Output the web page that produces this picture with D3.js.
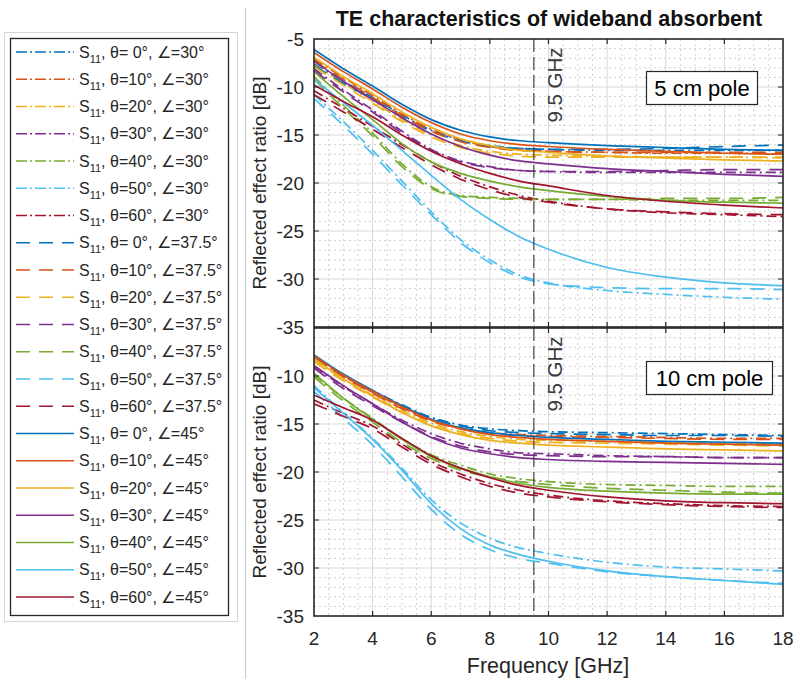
<!DOCTYPE html>
<html>
<head>
<meta charset="utf-8">
<script src="https://cdn.jsdelivr.net/npm/d3@7"></script>
<style>
  body { margin: 0; background: #fff; }
  svg { display: block; font-family: "Liberation Sans", Arial, Helvetica, sans-serif; }
</style>
</head>
<body>
<div id="chart"></div>
<script>
// frequency samples [GHz]
var freq = [2, 3, 4, 5, 6, 7, 8, 9, 10, 12, 14, 16, 18];
var thetas = [0, 10, 20, 30, 40, 50, 60];
var angles = ["30", "37.5", "45"];
var colors = ["#0072BD", "#D95319", "#EDB120", "#7E2F8E", "#77AC30", "#4DBEEE", "#A2142F"];

// 5 cm pole, rows = theta 0..60
var pole5_30 = [
  [-7.6, -9.4, -11.1, -12.9, -14.5, -15.5, -16.1, -16.4, -16.5, -16.6, -16.6, -16.6, -16.6],
  [-7.1, -9.0, -10.9, -12.8, -14.4, -15.5, -16.2, -16.5, -16.7, -16.8, -16.9, -16.9, -17.0],
  [-7.7, -9.6, -11.5, -13.4, -15.0, -16.1, -16.7, -17.0, -17.1, -17.2, -17.3, -17.3, -17.4],
  [-8.1, -10.3, -12.4, -14.6, -16.5, -17.7, -18.3, -18.7, -18.8, -18.9, -18.9, -18.9, -18.9],
  [-8.9, -11.9, -14.8, -18.0, -20.4, -21.3, -21.5, -21.6, -21.7, -21.7, -21.8, -21.8, -21.8],
  [-10.8, -13.6, -16.6, -19.8, -23.0, -25.9, -28.0, -29.6, -30.4, -31.2, -31.6, -31.9, -32.1],
  [-10.4, -12.2, -14.1, -16.0, -17.8, -19.3, -20.4, -21.3, -21.9, -22.7, -23.1, -23.3, -23.5]
];
var pole5_375 = [
  [-7.8, -9.6, -11.3, -13.1, -14.6, -15.6, -16.2, -16.4, -16.5, -16.5, -16.4, -16.2, -16.05],
  [-7.3, -9.2, -11.1, -13.0, -14.6, -15.7, -16.3, -16.6, -16.7, -16.8, -16.8, -16.8, -16.8],
  [-7.9, -9.8, -11.7, -13.6, -15.2, -16.3, -16.9, -17.2, -17.3, -17.3, -17.3, -17.3, -17.3],
  [-8.3, -10.5, -12.6, -14.8, -16.6, -17.8, -18.4, -18.7, -18.8, -18.8, -18.7, -18.6, -18.6],
  [-9.2, -12.2, -15.1, -18.3, -20.6, -21.4, -21.6, -21.7, -21.7, -21.7, -21.6, -21.6, -21.5],
  [-11.2, -14.0, -17.0, -20.2, -23.3, -26.2, -28.3, -29.8, -30.5, -30.9, -31.0, -31.0, -31.1],
  [-10.8, -12.6, -14.4, -16.3, -18.1, -19.6, -20.7, -21.5, -22.0, -22.7, -23.0, -23.2, -23.3]
];
var pole5_45 = [
  [-6.1, -8.1, -9.9, -11.8, -13.4, -14.5, -15.2, -15.6, -15.8, -16.1, -16.3, -16.5, -16.6],
  [-6.4, -8.4, -10.2, -12.1, -13.7, -14.9, -15.6, -16.0, -16.2, -16.5, -16.7, -16.9, -17.0],
  [-6.9, -8.9, -10.7, -12.6, -14.2, -15.4, -16.1, -16.6, -16.8, -17.2, -17.4, -17.6, -17.7],
  [-7.3, -9.4, -11.3, -13.2, -14.9, -16.2, -17.1, -17.7, -18.0, -18.5, -18.8, -19.1, -19.3],
  [-8.4, -11.0, -13.4, -15.9, -17.8, -19.0, -19.8, -20.4, -20.8, -21.4, -21.8, -22.0, -22.1],
  [-9.2, -11.6, -14.0, -16.6, -19.2, -21.7, -23.8, -25.6, -26.9, -28.8, -29.8, -30.4, -30.7],
  [-9.8, -11.5, -13.1, -15.0, -16.7, -18.0, -19.0, -19.8, -20.3, -21.3, -21.9, -22.3, -22.6]
];

// 10 cm pole
var pole10_30 = [
  [-8.0, -9.9, -11.5, -13.0, -14.3, -15.1, -15.5, -15.7, -15.8, -15.9, -16.0, -16.1, -16.2],
  [-8.0, -10.0, -11.7, -13.3, -14.6, -15.4, -15.9, -16.1, -16.2, -16.3, -16.4, -16.5, -16.5],
  [-8.3, -10.3, -12.0, -13.6, -14.9, -15.8, -16.3, -16.6, -16.7, -16.8, -16.9, -17.0, -17.1],
  [-9.0, -11.1, -12.9, -14.6, -16.0, -17.0, -17.6, -18.0, -18.1, -18.3, -18.4, -18.5, -18.5],
  [-9.9, -12.3, -14.4, -16.5, -18.2, -19.3, -20.2, -20.7, -21.0, -21.3, -21.4, -21.5, -21.5],
  [-11.0, -13.8, -16.5, -19.6, -22.9, -25.3, -26.9, -27.9, -28.5, -29.4, -29.9, -30.1, -30.3],
  [-12.5, -13.9, -15.2, -17.1, -18.9, -20.2, -21.2, -21.9, -22.4, -23.0, -23.3, -23.5, -23.6]
];
var pole10_375 = [
  [-8.1, -10.0, -11.6, -13.1, -14.4, -15.2, -15.7, -15.9, -16.0, -16.1, -16.2, -16.2, -16.3],
  [-8.1, -10.1, -11.8, -13.4, -14.7, -15.5, -16.0, -16.2, -16.3, -16.4, -16.5, -16.6, -16.6],
  [-8.5, -10.5, -12.2, -13.8, -15.1, -16.0, -16.5, -16.8, -16.9, -17.0, -17.1, -17.2, -17.3],
  [-9.2, -11.3, -13.1, -14.8, -16.3, -17.3, -17.9, -18.2, -18.3, -18.4, -18.4, -18.5, -18.5],
  [-10.1, -12.6, -14.8, -16.9, -18.6, -19.8, -20.5, -21.0, -21.3, -21.7, -21.9, -22.1, -22.2],
  [-11.6, -14.4, -17.2, -20.5, -23.9, -26.5, -28.1, -29.0, -29.5, -30.4, -30.9, -31.3, -31.6],
  [-12.9, -14.2, -15.5, -17.4, -19.2, -20.5, -21.5, -22.2, -22.6, -23.1, -23.4, -23.6, -23.7]
];
var pole10_45 = [
  [-7.8, -9.8, -11.5, -13.1, -14.5, -15.4, -15.9, -16.2, -16.4, -16.6, -16.8, -16.9, -17.0],
  [-7.9, -9.9, -11.6, -13.2, -14.6, -15.5, -16.1, -16.4, -16.6, -16.8, -17.0, -17.1, -17.2],
  [-8.2, -10.3, -12.1, -13.8, -15.2, -16.1, -16.7, -17.0, -17.2, -17.4, -17.6, -17.7, -17.8],
  [-8.9, -11.0, -12.9, -14.8, -16.4, -17.5, -18.1, -18.5, -18.7, -18.9, -19.0, -19.1, -19.2],
  [-9.7, -12.3, -14.5, -16.6, -18.4, -19.6, -20.5, -21.2, -21.6, -22.0, -22.2, -22.3, -22.3],
  [-11.2, -13.9, -16.6, -19.8, -23.3, -25.9, -27.6, -28.6, -29.3, -30.3, -30.9, -31.3, -31.7],
  [-12.0, -13.3, -14.6, -16.5, -18.3, -19.6, -20.6, -21.4, -21.9, -22.6, -23.0, -23.2, -23.3]
];

var xTicks = [2, 4, 6, 8, 10, 12, 14, 16, 18];
var yTicks = [-5, -10, -15, -20, -25, -30, -35];
var markFreq = 9.5;

var width = 798, height = 679;
var ink = "#262626";
var dashStyles = ["10,4,2,4", "14,9", null];

var svg = d3.select("#chart").append("svg")
  .attr("width", width)
  .attr("height", height);

// screenshot frame on the left
svg.append("line")
  .attr("x1", 245.5).attr("x2", 245.5).attr("y1", 8).attr("y2", height)
  .attr("stroke", "#cfcfcf").attr("stroke-width", 1.2);
svg.append("rect")
  .attr("x", 4.5).attr("y", 32.5).attr("width", 233).attr("height", 589)
  .attr("fill", "none").attr("stroke", "#d6d6d6");

var x = d3.scaleLinear().domain([2, 18]).range([314, 783]);

var panels = [
  {sets: [pole5_30, pole5_375, pole5_45], top: 39, bottom: 327, label: "5 cm pole", box: [646, 71, 111, 33], xLabels: false, firstY: true},
  {sets: [pole10_30, pole10_375, pole10_45], top: 328, bottom: 616, label: "10 cm pole", box: [646, 361, 126, 33], xLabels: true, firstY: false}
];

panels.forEach(function(p, pi) {
  var y = d3.scaleLinear().domain([-35, -5]).range([p.bottom, p.top]);
  var g = svg.append("g");

  var clipId = "clip" + pi;
  svg.append("clipPath").attr("id", clipId)
    .append("rect").attr("x", x(2)).attr("y", p.top)
    .attr("width", x(18) - x(2)).attr("height", p.bottom - p.top);

  // minor grid
  g.append("g").selectAll("line")
    .data(d3.range(2.5, 18, 0.5).filter(function(d) { return d % 2 !== 0; }))
    .enter().append("line")
    .attr("x1", function(d) { return x(d); }).attr("x2", function(d) { return x(d); })
    .attr("y1", p.top).attr("y2", p.bottom)
    .attr("stroke", "#c4c4c4").attr("stroke-dasharray", "2,3").attr("stroke-width", 0.8);
  g.append("g").selectAll("line")
    .data(d3.range(-34, -5, 1).filter(function(d) { return d % 5 !== 0; }))
    .enter().append("line")
    .attr("x1", x(2)).attr("x2", x(18))
    .attr("y1", function(d) { return y(d); }).attr("y2", function(d) { return y(d); })
    .attr("stroke", "#c4c4c4").attr("stroke-dasharray", "2,3").attr("stroke-width", 0.8);

  // major grid
  g.append("g").selectAll("line")
    .data(xTicks.slice(1, -1))
    .enter().append("line")
    .attr("x1", function(d) { return x(d); }).attr("x2", function(d) { return x(d); })
    .attr("y1", p.top).attr("y2", p.bottom)
    .attr("stroke", "#d9d9d9");
  g.append("g").selectAll("line")
    .data(yTicks.slice(1, -1))
    .enter().append("line")
    .attr("x1", x(2)).attr("x2", x(18))
    .attr("y1", function(d) { return y(d); }).attr("y2", function(d) { return y(d); })
    .attr("stroke", "#d9d9d9");

  // curves
  var line = d3.line()
    .x(function(d) { return x(d[0]); })
    .y(function(d) { return y(d[1]); })
    .curve(d3.curveMonotoneX);

  var curves = g.append("g").attr("clip-path", "url(#" + clipId + ")");
  p.sets.forEach(function(set, si) {
    set.forEach(function(vals, ti) {
      curves.append("path")
        .datum(freq.map(function(f, i) { return [f, vals[i]]; }))
        .attr("d", line)
        .attr("fill", "none")
        .attr("stroke", colors[ti])
        .attr("stroke-width", 1.7)
        .attr("stroke-dasharray", dashStyles[si]);
    });
  });

  // 9.5 GHz marker
  g.append("line")
    .attr("x1", x(markFreq)).attr("x2", x(markFreq))
    .attr("y1", p.top).attr("y2", p.bottom)
    .attr("stroke", "#333").attr("stroke-width", 1.1)
    .attr("stroke-dasharray", "13,5");
  g.append("text")
    .attr("transform", "translate(" + (x(markFreq) + 28) + "," + (p.top + 46) + ") rotate(-90)")
    .attr("text-anchor", "middle")
    .attr("font-size", 20.5).attr("fill", "#3a3a3a")
    .text("9.5 GHz");

  // axis box and ticks
  g.append("rect")
    .attr("x", x(2)).attr("y", p.top)
    .attr("width", x(18) - x(2)).attr("height", p.bottom - p.top)
    .attr("fill", "none").attr("stroke", ink).attr("stroke-width", 1.6);

  var tl = 5;
  g.append("g").selectAll("path")
    .data(xTicks.slice(1, -1))
    .enter().append("path")
    .attr("d", function(d) {
      return "M" + x(d) + "," + p.bottom + "v" + (-tl) + "M" + x(d) + "," + p.top + "v" + tl;
    })
    .attr("stroke", ink).attr("stroke-width", 1.2);
  g.append("g").selectAll("path")
    .data(yTicks.slice(1, -1))
    .enter().append("path")
    .attr("d", function(d) {
      return "M" + x(2) + "," + y(d) + "h" + tl + "M" + x(18) + "," + y(d) + "h" + (-tl);
    })
    .attr("stroke", ink).attr("stroke-width", 1.2);

  // tick labels
  g.append("g").selectAll("text")
    .data(p.firstY ? yTicks : yTicks.slice(1))
    .enter().append("text")
    .attr("x", x(2) - 10)
    .attr("y", function(d) { return y(d); })
    .attr("dy", "0.36em")
    .attr("text-anchor", "end")
    .attr("font-size", 19).attr("fill", ink)
    .text(function(d) { return d; });

  if (p.xLabels) {
    g.append("g").selectAll("text")
      .data(xTicks)
      .enter().append("text")
      .attr("x", function(d) { return x(d); })
      .attr("y", p.bottom + 29)
      .attr("text-anchor", "middle")
      .attr("font-size", 19).attr("fill", ink)
      .text(function(d) { return d; });
  }

  g.append("text")
    .attr("transform", "translate(" + 266 + "," + ((p.top + p.bottom) / 2) + ") rotate(-90)")
    .attr("text-anchor", "middle")
    .attr("font-size", 19).attr("fill", ink)
    .text("Reflected effect ratio [dB]");

  // pole label box
  g.append("rect")
    .attr("x", p.box[0] + 0.5).attr("y", p.box[1] + 0.5)
    .attr("width", p.box[2]).attr("height", p.box[3])
    .attr("fill", "#fff").attr("stroke", ink).attr("stroke-width", 1.2);
  g.append("text")
    .attr("x", p.box[0] + p.box[2] / 2 + 0.5)
    .attr("y", p.box[1] + p.box[3] / 2 + 8)
    .attr("text-anchor", "middle")
    .attr("font-size", 22).attr("fill", "#000")
    .text(p.label);
});

svg.append("text")
  .attr("x", 549).attr("y", 26)
  .attr("text-anchor", "middle")
  .attr("font-size", 21.5).attr("font-weight", "bold").attr("fill", "#111")
  .text("TE characteristics of wideband absorbent");

svg.append("text")
  .attr("x", 548).attr("y", 673)
  .attr("text-anchor", "middle")
  .attr("font-size", 21.5).attr("fill", ink)
  .text("Frequency [GHz]");

// legend
var legend = svg.append("g");
legend.append("rect")
  .attr("x", 10.5).attr("y", 38.5).attr("width", 218).attr("height", 577)
  .attr("fill", "#fff").attr("stroke", ink).attr("stroke-width", 1.3);

var items = [];
angles.forEach(function(a, si) {
  thetas.forEach(function(t, ti) { items.push({a: a, si: si, t: t, ti: ti}); });
});

var rows = legend.selectAll(".item")
  .data(items)
  .enter().append("g")
  .attr("class", "item")
  .attr("transform", function(d, i) { return "translate(0," + (52 + i * 27.25) + ")"; });

rows.append("line")
  .attr("x1", 16).attr("x2", 74).attr("y1", 0).attr("y2", 0)
  .attr("stroke", function(d) { return colors[d.ti]; })
  .attr("stroke-width", 1.7)
  .attr("stroke-dasharray", function(d) { return d.si === 0 ? "11,3,2,3" : dashStyles[d.si]; });

var lbl = rows.append("text")
  .attr("x", 79).attr("y", 5.5)
  .attr("font-size", 16).attr("fill", ink);
lbl.append("tspan").text("S");
lbl.append("tspan").attr("font-size", 11).attr("dy", 5).text("11");
lbl.append("tspan").attr("dy", -5)
  .text(function(d) { return ", \u03b8=" + (d.t === 0 ? " 0" : d.t) + "\u00b0, \u2220=" + d.a + "\u00b0"; });
</script>
</body>
</html>
